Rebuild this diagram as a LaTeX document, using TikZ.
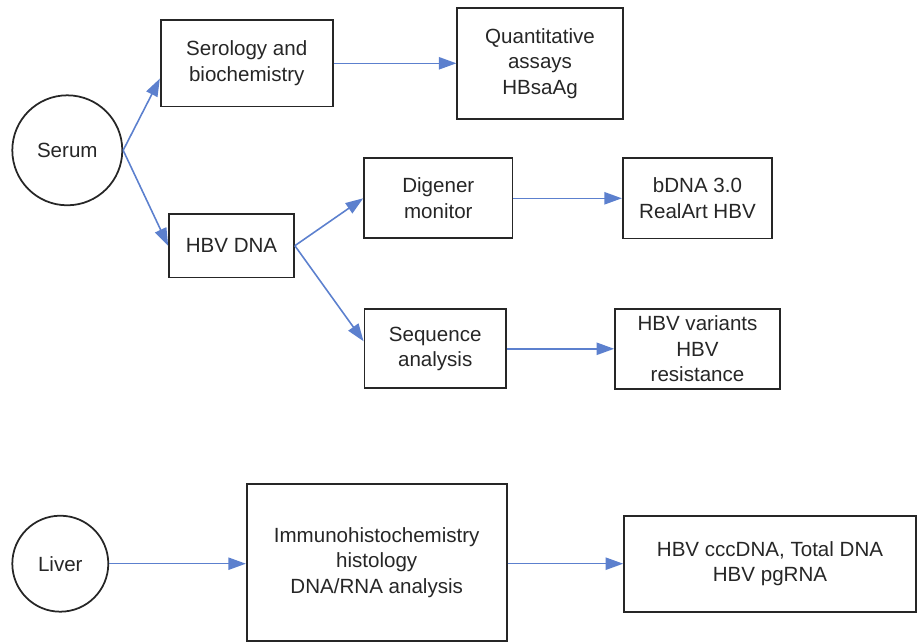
\documentclass[tikz,border=0pt]{standalone}
\usepackage{fontspec}
\setmainfont{Liberation Sans}
\usetikzlibrary{arrows.meta}

\definecolor{linkblue}{RGB}{92,128,206}
\definecolor{inkgray}{RGB}{38,38,38}

\begin{document}
\begin{tikzpicture}[x=0.02cm,y=-0.02cm,
  box/.style={draw=inkgray,line width=1pt,inner sep=0pt,align=center,
    text=inkgray,font=\fontsize{11.7}{14.5}\selectfont},
  sample/.style={box,circle},
  link/.style={linkblue,line width=0.9pt,-{Triangle[length=10pt,width=7pt]}}]

% \draw [red] (0,0) grid[step=50] (919,642);
\useasboundingbox (0,0) rectangle (919,642);

\node [sample,minimum size=2.2cm] (serum) at (67.3,150.3) {Serum};
\node [sample,minimum size=1.92cm] (liver) at (60.3,563.7) {Liver};

\node [box,minimum width=3.44cm,minimum height=1.73cm] (serol) at (246.7,63.3) {Serology and\\biochemistry};
\node [box,minimum width=3.31cm,minimum height=2.22cm] (quant) at (540,63.3) {Quantitative\\assays\\HBsaAg};
\node [box,minimum width=2.5cm,minimum height=1.27cm] (hbvdna) at (231.5,245.7) {HBV DNA};
\node [box,minimum width=2.97cm,minimum height=1.6cm] (digener) at (438.3,198.3) {Digener\\monitor};
\node [box,minimum width=2.99cm,minimum height=1.61cm] (bdna) at (697.5,198.3) {bDNA 3.0\\RealArt HBV};
\node [box,minimum width=2.83cm,minimum height=1.58cm] (seqan) at (435.2,348.8) {Sequence\\analysis};
\node [box,minimum width=3.3cm,minimum height=1.6cm] (variants) at (697.5,348.8) {HBV variants\\HBV\\resistance};

\node [box,minimum width=5.2cm,minimum height=3.14cm] (immuno) at (376.7,562.5) {Immunohistochemistry\\histology\\DNA/RNA analysis};
\node [box,minimum width=5.84cm,minimum height=1.92cm] (cccdna) at (770,563.7) {HBV cccDNA, Total DNA\\HBV pgRNA};

\draw [link] (serum.east) -- (serol.190);
\draw [link] (serum.east) -- (hbvdna.west);
\draw [link] (serol.east) -- (quant.west);
\draw [link] (hbvdna.east) -- (digener.west);
\draw [link] (hbvdna.east) -- (seqan.174);
\draw [link] (digener.east) -- (bdna.west);
\draw [link] (seqan.east) -- (variants.west);

\draw [link] (liver.east) -- (liver.east -| immuno.west);
\draw [link] (cccdna.west -| immuno.east) -- (cccdna.west);

\end{tikzpicture}
\end{document}
